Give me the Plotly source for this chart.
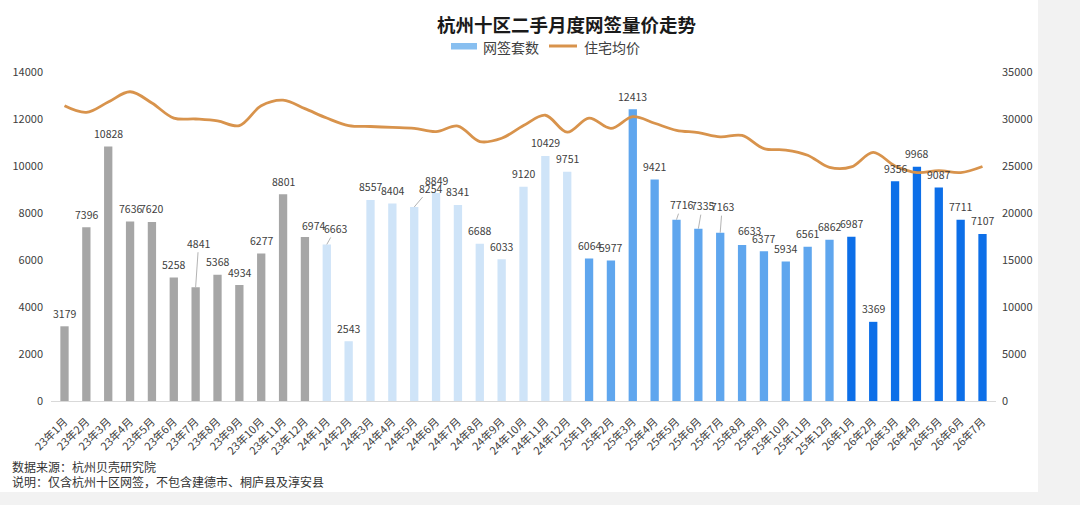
import plotly.graph_objects as go

# ---------------- data ----------------
months = [
    "23年1月", "23年2月", "23年3月", "23年4月", "23年5月", "23年6月", "23年7月", "23年8月", "23年9月", "23年10月", "23年11月", "23年12月",
    "24年1月", "24年2月", "24年3月", "24年4月", "24年5月", "24年6月", "24年7月", "24年8月", "24年9月", "24年10月", "24年11月", "24年12月",
    "25年1月", "25年2月", "25年3月", "25年4月", "25年5月", "25年6月", "25年7月", "25年8月", "25年9月", "25年10月", "25年11月", "25年12月",
    "26年1月", "26年2月", "26年3月", "26年4月", "26年5月", "26年6月", "26年7月",
]
deals = [
    3179, 7396, 10828, 7636, 7620, 5258, 4841, 5368, 4934, 6277, 8801, 6974,
    6663, 2543, 8557, 8404, 8254, 8849, 8341, 6688, 6033, 9120, 10429, 9751,
    6064, 5977, 12413, 9421, 7716, 7335, 7163, 6633, 6377, 5934, 6561, 6862,
    6987, 3369, 9356, 9968, 9087, 7711, 7107,
]
avg_price = [
    31400, 30700, 31800, 32900, 31700, 30100, 30000, 29800, 29300, 31400, 32000, 31100,
    30100, 29300, 29200, 29100, 29000, 28650, 29250, 27600, 27950, 29300, 30400, 28600,
    30100, 29000, 30250, 29550, 28800, 28550, 28100, 28250, 26850, 26700, 26150, 24850,
    24900, 26450, 25000, 24300, 24500, 24300, 24950,
]
left_ticks = [0, 2000, 4000, 6000, 8000, 10000, 12000, 14000]
right_ticks = [0, 5000, 10000, 15000, 20000, 25000, 30000, 35000]

# ---------------- style ----------------
year_colors = {"23": "#a6a6a6", "24": "#cfe4f8", "25": "#5fa6ee", "26": "#0d6fe8"}
bar_colors = [year_colors[m[:2]] for m in months]
LINE_COLOR = "#d8934c"
TXT = "#404040"
FONT = "Noto Sans CJK SC"

W_PX, H_PX = 1080, 505
L, R, T, B = 51, 84, 72, 104
PW = W_PX - L - R
PH = H_PX - T - B


def px(x):
    return (x - L) / PW


def py(y):
    return (H_PX - B - y) / PH


fig = go.Figure()
fig.add_trace(go.Bar(
    x=months, y=deals, name="网签套数",
    marker=dict(color=bar_colors, line=dict(width=0)),
    yaxis="y", showlegend=False,
))
fig.add_trace(go.Scatter(
    x=months, y=avg_price, name="住宅均价", mode="lines",
    line=dict(color=LINE_COLOR, width=2.8, shape="spline", smoothing=1.0),
    yaxis="y2", showlegend=False,
))

# value labels (special placements with leader lines)
leader = {
    "23年7月": (3, -44),
    "24年1月": (9, -16),
    "24年5月": (16, -19),
    "25年5月": (5, -15),
    "25年6月": (4, -23),
    "25年7月": (2, -26),
}
shifted = {
    "23年12月": (9, 12),
    "25年8月": (7, 15),
}
annotations = []
for m, v in zip(months, deals):
    if m in leader:
        ax, ay = leader[m]
        annotations.append(dict(
            x=m, y=v, xref="x", yref="y", text=str(v), showarrow=True,
            ax=ax, ay=ay, arrowhead=0, arrowwidth=0.8, arrowcolor="#a0a0a0",
            standoff=0, font=dict(size=10.5, color=TXT, family=FONT),
        ))
    else:
        xs, ys = shifted.get(m, (0, 13))
        annotations.append(dict(
            x=m, y=v, xref="x", yref="y", text=str(v), showarrow=False,
            xshift=xs, yshift=ys, yanchor="middle",
            font=dict(size=10.5, color=TXT, family=FONT),
        ))

# title
annotations.append(dict(
    x=px(566), y=py(24), xref="paper", yref="paper", showarrow=False,
    text="<b>杭州十区二手月度网签量价走势</b>", xanchor="center", yanchor="middle",
    font=dict(size=18.5, color="#1a1a1a", family=FONT),
))
# legend texts
annotations.append(dict(
    x=px(481), y=py(46.5), xref="paper", yref="paper", showarrow=False,
    text="网签套数", xanchor="left", yanchor="middle",
    font=dict(size=14, color=TXT, family=FONT),
))
annotations.append(dict(
    x=px(582), y=py(46.5), xref="paper", yref="paper", showarrow=False,
    text="住宅均价", xanchor="left", yanchor="middle",
    font=dict(size=14, color=TXT, family=FONT),
))
# notes
annotations.append(dict(
    x=px(10), y=py(466), xref="paper", yref="paper", showarrow=False,
    text="数据来源：杭州贝壳研究院", xanchor="left", yanchor="middle",
    font=dict(size=12, color="#333333", family=FONT),
))
annotations.append(dict(
    x=px(10), y=py(481), xref="paper", yref="paper", showarrow=False,
    text="说明：仅含杭州十区网签，不包含建德市、桐庐县及淳安县", xanchor="left", yanchor="middle",
    font=dict(size=12, color="#333333", family=FONT),
))

shapes = [
    # grey page margins
    dict(type="rect", xref="paper", yref="paper", x0=px(1038), x1=px(1085), y0=py(-5), y1=py(510),
         fillcolor="#f2f2f2", line=dict(width=0), layer="below"),
    dict(type="rect", xref="paper", yref="paper", x0=px(-5), x1=px(1085), y0=py(492), y1=py(510),
         fillcolor="#f2f2f2", line=dict(width=0), layer="below"),
    # legend swatches
    dict(type="rect", xref="paper", yref="paper", x0=px(451), x1=px(477), y0=py(49.5), y1=py(43),
         fillcolor="#88bff0", line=dict(width=0)),
    dict(type="line", xref="paper", yref="paper", x0=px(549), x1=px(577), y0=py(46), y1=py(46),
         line=dict(color=LINE_COLOR, width=3)),
]

fig.update_layout(
    width=W_PX, height=H_PX,
    margin=dict(l=L, r=R, t=T, b=B, pad=0),
    paper_bgcolor="#ffffff", plot_bgcolor="#ffffff",
    font=dict(family=FONT, color=TXT, size=11),
    bargap=0.62,
    showlegend=False,
    xaxis=dict(
        type="category", categoryorder="array", categoryarray=months,
        tickangle=-45, tickfont=dict(size=11, color=TXT, family=FONT),
        ticks="outside", ticklen=9, tickcolor="rgba(0,0,0,0)",
        showline=True, linecolor="#d9d9d9", linewidth=1,
        showgrid=False, zeroline=False,
    ),
    yaxis=dict(
        range=[0, 14000], tickvals=left_ticks, ticktext=[str(t) for t in left_ticks],
        showgrid=False, zeroline=False, showline=False, ticks="",
        ticklabelstandoff=7, tickfont=dict(size=11, color=TXT, family=FONT),
    ),
    yaxis2=dict(
        range=[0, 35000], tickvals=right_ticks, ticktext=[str(t) for t in right_ticks],
        overlaying="y", side="right",
        showgrid=False, zeroline=False, showline=False, ticks="",
        ticklabelstandoff=5, tickfont=dict(size=11, color=TXT, family=FONT),
    ),
    annotations=annotations,
    shapes=shapes,
)

fig.write_html(
    "out.html",
    config={"displayModeBar": False},
    post_script="document.body.style.margin='0px';document.body.style.overflow='hidden';",
)
